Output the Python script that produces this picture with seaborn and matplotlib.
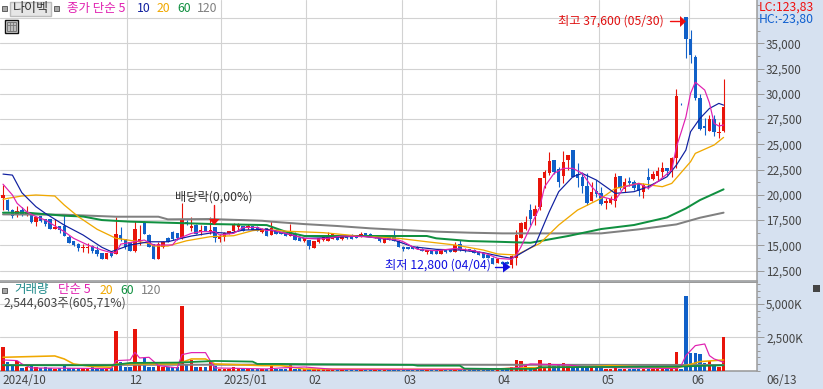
import numpy as np
import pandas as pd
import matplotlib
matplotlib.use("Agg")
import matplotlib.pyplot as plt
from matplotlib.patches import Rectangle, Polygon
from matplotlib.transforms import ScaledTranslation
from matplotlib.ticker import MultipleLocator
import seaborn as sns

opens = [19650,19500,18500,18000,18500,18000,18100,17300,17900,17600,
         17600,16600,16900,16900,15800,15400,15150,14750,14750,14950,
         14550,14250,13650,14250,14150,16000,15600,15300,14450,15350,
         17300,16000,15100,13650,14850,15700,16300,16200,15700,17300,
         16700,17000,16300,16950,16300,16800,15600,15800,16200,16400,
         16800,16900,16750,16900,16850,16300,16700,16000,16500,16300,
         16200,15900,16100,15700,15400,15500,14750,15300,15500,15400,
         15600,15900,15600,15900,16050,15900,15800,16200,16150,15800,
         15700,15200,15800,15900,15400,14850,14800,14850,14850,14650,
         14350,14500,14450,14150,14500,14500,14350,15150,14650,14600,
         14550,14350,14250,14050,13750,13250,13350,13350,13000,13750,
         15750,16600,18500,17900,18800,21650,22150,23450,22550,21850,
         23450,24450,22050,21750,20850,19400,20350,20150,19200,19200,
         19400,21850,20550,21350,21250,21150,20250,21750,21550,21850,
         22250,22650,22250,23650,29000,37600,35400,33650,29600,26800,
         26300,27500,26100,26300]
highs = [20950,19550,18550,18900,18750,18900,18150,17900,17950,17600,
         17650,17600,16900,18000,16000,15450,15250,15150,15250,15000,
         14950,14250,14250,14450,17800,16800,15650,15350,17400,17050,
         17400,16150,15100,15350,15450,15800,16400,16250,19200,17550,
         17800,17150,17050,16950,17800,16800,16150,16350,16450,17250,
         17200,16950,17100,16950,16900,16700,16750,17400,16600,16350,
         16250,17100,16350,15750,15750,15550,15450,15750,15850,16350,
         16250,15950,15950,15950,16100,15950,16350,16250,16200,15900,
         15750,15850,15850,16550,15450,14950,14850,14900,14900,14700,
         14550,14550,14500,14550,14550,14550,15350,15550,14700,14650,
         14600,14400,14300,14100,13800,13700,13400,13400,14050,16500,
         17300,17900,19050,19000,21700,22450,24250,23450,22750,24350,
         23950,24450,23150,22250,22150,21250,21450,20750,19700,19900,
         22150,21900,21650,21750,21450,21200,21150,22650,22350,22750,
         23250,22700,23750,30450,29050,37600,36300,33850,30000,27600,
         27900,27900,27200,31450]
lows = [18500,18350,17700,17850,17950,17900,17250,16950,17350,16950,
        16600,16600,16250,15900,15200,14950,14450,14350,14250,14250,
        13950,13650,13650,13850,14150,15450,14650,14450,14350,15000,
        16100,14850,13650,13650,14700,15300,15500,15550,15650,17050,
        16450,16100,16000,16450,16100,15300,15350,15450,16150,16300,
        16550,16400,16600,16550,16450,16250,15900,16000,16100,16100,
        15900,15900,15500,15400,15350,14650,14700,15250,15450,15400,
        15600,15500,15550,15650,15650,15700,15800,15950,15900,15750,
        15300,15200,15500,15400,14850,14450,14600,14600,14600,14400,
        14150,14100,14100,14100,14250,14300,14300,14400,14350,14400,
        14200,14000,13700,13700,13100,13200,13150,13100,12800,13050,
        15750,16500,17050,17000,18500,20650,21950,22050,20750,21150,
        22450,21750,20750,20150,19000,19350,19800,19000,18600,19100,
        18800,20450,20250,20850,20450,19900,19700,20550,21500,21400,
        21750,21950,21750,22650,28900,33550,33050,29400,26400,25900,
        26300,25800,25600,26200]
closes = [19950,18500,17900,18400,18100,18300,17300,17800,17400,17100,
          16600,16800,16500,15900,15200,15050,14750,14850,14850,14450,
          14150,13650,14250,13950,16100,15600,14850,14450,16600,15650,
          16100,14850,13650,15100,15300,15300,15600,15700,17600,17200,
          16900,16100,16500,16450,16500,15700,15900,16200,16400,17100,
          17000,16400,16950,16550,16450,16600,15900,16700,16100,16100,
          15900,16300,15500,15400,15700,14900,15400,15700,15800,15800,
          16200,15500,15900,15700,15650,15700,16100,15950,15900,15850,
          15400,15800,15500,15400,14850,14650,14650,14650,14600,14450,
          14500,14150,14150,14500,14350,14350,15050,14550,14450,14450,
          14250,14050,13750,13750,13150,13650,13150,13150,13950,16050,
          17200,17300,17600,18600,21650,22250,23350,22250,21250,23250,
          23950,21750,21650,20850,19200,20300,20050,19100,19400,19600,
          21750,20650,21250,21150,20650,20350,20950,21450,22050,22350,
          22650,22350,23650,29800,28950,35400,33850,29600,26500,26600,
          27500,26200,26200,28700]
volumes_k = [1750,625,325,700,200,300,375,300,200,300,
             175,150,175,350,200,200,200,175,175,250,
             175,200,200,200,3000,625,250,250,3150,500,
             925,300,300,500,250,250,300,250,4875,500,
             825,300,300,300,700,375,150,150,150,300,
             200,150,200,125,125,125,125,375,150,125,
             125,425,125,100,100,100,100,100,100,100,
             100,100,100,100,100,100,100,100,100,100,
             100,100,100,125,125,100,100,100,100,100,
             100,100,100,100,100,100,125,125,100,100,
             100,100,100,100,100,100,100,100,300,825,
             750,500,300,300,825,300,600,350,500,600,
             350,250,250,375,375,200,200,200,150,150,
             200,150,150,150,150,150,150,150,150,150,
             150,150,150,1425,125,5625,1350,1350,1275,600,
             700,500,300,2544]

ma5_idx = [0,2,3,5,7,9,13,15,18,21,
           23,24,25,28,30,32,34,36,37,40,
           42,45,46,49,51,54,56,57,60,64,
           67,69,72,77,84,85,88,92,96,100,
           103,105,108,109,110,114,115,117,119,121,
           123,125,127,130,132,135,137,139,142,143,
           144,145,146,147,149,150,151,152,153]
ma5_val = [21050,19980,19150,18330,17830,17500,16350,15690,15030,14530,
           14270,14270,15120,15350,15520,15030,15030,15030,15620,16180,
           16350,16350,16020,16180,16770,16770,16450,16510,16180,15690,
           15620,15700,15920,15850,15520,15350,14600,14460,14690,14460,
           14100,13710,13610,14030,14860,18820,20800,22120,22620,22620,
           22120,20800,19810,19480,20800,21130,20640,21300,22450,24760,
           26200,27700,30050,31150,30370,29100,27070,26810,26910]
ma10_idx = [0,2,4,7,9,13,17,21,23,24,
            27,31,35,37,40,45,48,51,56,60,
            64,69,76,83,87,92,97,102,106,108,
            109,113,116,118,121,123,126,129,130,134,
            137,141,143,145,146,148,150,152,153]
ma10_val = [22050,21950,20210,18820,18160,17000,16020,14800,14370,14530,
            15030,15350,15350,15590,15920,16280,16180,16510,16580,16180,
            15690,15750,15920,15520,14860,14600,14530,14270,13870,13710,
            13940,15030,18330,20310,21790,22120,21460,20470,20140,20310,
            20800,21790,22950,24430,26250,27570,28550,29050,28880]
ma20_idx = [0,1,4,7,11,13,16,20,24,28,
            31,32,35,39,44,49,53,56,60,68,
            76,84,90,96,102,105,109,114,118,122,
            127,130,135,140,142,146,147,151,153]
ma20_val = [19550,19650,19880,19980,19880,18990,17830,16580,15690,15420,
            15190,14930,14930,15450,15850,15950,16450,16580,16400,16250,
            15900,15690,15350,15030,14530,14140,14040,15190,17010,18490,
            19650,20630,21130,20800,21130,23280,24100,24930,25680]
ma60_idx = [0,5,13,17,21,27,45,56,60,64,
            90,92,99,105,112,120,127,134,141,145,
            148,153]
ma60_val = [18230,18230,17930,17850,17500,17340,17100,17000,16350,15920,
            15920,15690,15420,15350,15250,15920,16610,17010,17760,18650,
            19480,20540]
ma120_idx = [0,13,24,33,35,44,55,57,64,71,
             78,85,92,99,106,127,135,143,148,153]
ma120_val = [18060,18030,17830,17830,17570,17600,17430,17340,17100,16910,
             16680,16510,16350,16250,16180,16180,16580,17070,17730,18230]

vma5_idx = [0,3,4,6,23,24,27,28,29,31,
            33,37,38,40,43,44,45,56,59,64,
            70,88,97,104,109,112,120,124,143,144,
            145,147,149,150,151,153]
vma5_val = [800,750,500,200,150,750,800,1375,950,1000,
            375,200,1200,1350,1350,750,200,125,200,270,
            100,100,100,100,200,500,425,250,150,375,
            1125,1875,2000,1125,875,625]
vma20_idx = [0,11,13,15,19,23,24,37,40,43,
             45,55,59,64,85,104,109,118,125,129,
             134,143,145,148,153]
vma20_val = [1000,1100,875,500,300,250,500,500,875,875,
             500,375,375,120,100,100,200,250,300,375,
             300,200,375,675,800]
vma60_idx = [0,23,27,37,45,53,54,59,64,87,
             88,97,98,104,113,114,143,153]
vma60_val = [400,400,575,600,725,675,500,500,480,430,
             370,370,150,125,125,250,300,400]
vma120_idx = [0,64,153]
vma120_val = [420,450,420]

month_pos = [-0.637,26.4,46.35,64.4,84.65,104.6,126.6,145.7]
month_labels = ["2024/10","12","2025/01","02","03","04","05","06"]
price_ticks = list(range(12500,35001,2500))
volume_ticks = [2500,5000]

RED, BLUE = "#e8140a", "#1060c8"
PINK, NAVY, ORANGE, GREEN, GRAY = "#e020b0", "#1020a0", "#f0a800", "#109040", "#808080"
PANEL, GRID, EDGE, INK = "#d6e1f0", "#d2d2d2", "#9a9a9a", "#454545"
PX = 0.72

sns.set_theme(style="white")
plt.rcParams["font.family"] = ["Noto Sans CJK KR", "DejaVu Sans"]

W, H = 823, 389
fig = plt.figure(figsize=(W/100, H/100), dpi=100, facecolor=PANEL)
def px_axes(x0, x1, y0, y1):
    return fig.add_axes([x0/W, 1-y1/H, (x1-x0)/W, (y1-y0)/H], facecolor="white")
ax = px_axes(0, 757, 0, 281)
axv = px_axes(0, 757, 282, 371)

df = pd.DataFrame(dict(i=np.arange(len(opens)), o=opens, h=highs, l=lows, c=closes, v=volumes_k))
df["up"] = df.c >= df.o
colors = np.where(df.up, RED, BLUE)

xlim = (-0.637, 160.1)
body_w = 0.72

ax.vlines(df.i, df.l, df.h, colors=colors, lw=PX*1.1, zorder=3)
ax.bar(df.i, (df.c-df.o).abs().clip(lower=60), bottom=df[["o","c"]].min(axis=1), width=body_w,
       color=colors, linewidth=0, edgecolor="none", zorder=3, antialiased=False)
for idx, val, col, lw in [(ma120_idx, ma120_val, GRAY, 2.0*PX), (ma60_idx, ma60_val, GREEN, 2.0*PX),
                          (ma20_idx, ma20_val, ORANGE, 1.3*PX), (ma10_idx, ma10_val, NAVY, 1.2*PX),
                          (ma5_idx, ma5_val, PINK, 1.2*PX)]:
    sns.lineplot(x=idx, y=val, ax=ax, color=col, lw=lw, estimator=None, sort=False, zorder=4, legend=False)

sns.barplot(data=df, x="i", y="v", hue="up", palette={True: RED, False: BLUE}, native_scale=True,
            dodge=False, width=body_w, legend=False, ax=axv, zorder=3, saturation=1,
            linewidth=0, edgecolor="none")
for p in axv.patches:
    p.set_antialiased(False)
for idx, val, col, lw in [(vma120_idx, vma120_val, GRAY, 2.0*PX), (vma20_idx, vma20_val, ORANGE, 1.6*PX),
                          (vma5_idx, vma5_val, PINK, 1.2*PX), (vma60_idx, vma60_val, GREEN, 1.8*PX)]:
    sns.lineplot(x=idx, y=val, ax=axv, color=col, lw=lw, estimator=None, sort=False, zorder=4, legend=False)

ax.set_xlim(*xlim); axv.set_xlim(*xlim)
ax.set_ylim(11465, 39287)
axv.set_ylim(-30, 6652)

for a in (ax, axv):
    a.set_xlabel(""); a.set_ylabel("")
    a.set_axisbelow(True)
    a.yaxis.tick_right()
    a.grid(True, color=GRID, lw=1.1*PX, zorder=0)
    a.set_xticks(month_pos)
    for sp in a.spines.values():
        sp.set_visible(False)
    a.spines["right"].set_visible(True); a.spines["right"].set_color(EDGE); a.spines["right"].set_linewidth(1.5*PX)
    a.tick_params(axis="y", which="major", length=5, width=PX, color=EDGE, labelsize=8.4,
                  labelcolor=INK, pad=1.5, right=True)
    a.tick_params(axis="y", which="minor", length=2.5, width=PX, color=EDGE, right=True)
    a.get_xgridlines()[0].set_visible(False)

ax.set_yticks(price_ticks, [f"{t:,}" for t in price_ticks])
ax.yaxis.set_minor_locator(MultipleLocator(1250))
ax.axhline(37500, color=GRID, lw=1.1*PX, zorder=0)
ax.set_xticklabels([])
ax.tick_params(axis="x", length=0)
ax.spines["bottom"].set_visible(True); ax.spines["bottom"].set_color(EDGE); ax.spines["bottom"].set_linewidth(1.6*PX)

axv.set_yticks(volume_ticks, [f"{t:,}K" for t in volume_ticks])
axv.yaxis.set_minor_locator(MultipleLocator(500))
axv.spines["bottom"].set_visible(True); axv.spines["bottom"].set_color(EDGE); axv.spines["bottom"].set_linewidth(1.6*PX)
axv.spines["top"].set_visible(True); axv.spines["top"].set_color(EDGE); axv.spines["top"].set_linewidth(1.0*PX)
axv.set_xticks(month_pos, month_labels)
axv.tick_params(axis="x", length=13, width=1.1*PX, color=EDGE, labelsize=8.4, labelcolor=INK, pad=-11)
off = ScaledTranslation(2/72*0.72, 0, fig.dpi_scale_trans)
for lab in axv.get_xticklabels():
    lab.set_ha("left")
    lab.set_transform(lab.get_transform() + off)
axv.xaxis.get_major_ticks()[0].tick1line.set_visible(False)

# Overlay in pixel coordinates for captions and markers
ov = fig.add_axes([0, 0, 1, 1], facecolor="none", zorder=10)
ov.set_xlim(0, W); ov.set_ylim(H, 0); ov.axis("off")
def T(x, y, s, color=INK, size=8.8, ha="left"):
    ov.text(x, y, s, color=color, fontsize=size, ha=ha, va="center")
def square(x, y):
    ov.add_patch(Rectangle((x-2.5, y-2.5), 5, 5, fc="#a8a8a8", ec="#606060", lw=0.7))

square(5, 8)
ov.add_patch(Rectangle((10.5, 1.5), 41, 14, fc="#e6e6e6", ec="#bcbcbc", lw=1))
T(31, 8.5, "나이벡", "#333333", 9.4, "center")
square(57, 8)
T(67, 8.5, "종가 단순 5", PINK, 9.0)
T(137, 8.5, "10", NAVY, 8.8)
T(157, 8.5, "20", ORANGE, 8.8)
T(177, 8.5, "60", GREEN, 8.8)
T(197, 8.5, "120", GRAY, 8.8)
ov.add_patch(Rectangle((5.5, 19.5), 13, 13, fc="#d8d8d8", ec="#111111", lw=1))
ov.add_patch(Rectangle((7.5, 22), 9, 8.5, fc="#bdbdbd", ec="#777777", lw=0.7))
for xv in (10.5, 13.5):
    ov.plot([xv, xv], [22, 30.5], color="#777777", lw=0.6)
ov.plot([7.5, 16.5], [25, 25], color="#777777", lw=0.6)

T(759, 7, "LC:123,83", "#f01010", 8.8)
T(759, 19, "HC:-23,80", "#1060d0", 8.8)
T(766, 380, "06/13", INK, 8.4)
ov.add_patch(Rectangle((813, 285), 7, 7, fc="#444444", ec="none"))

square(5, 290)
T(14, 290, "거래량", "#1f8a8a", 9.0)
T(58, 290, "단순 5", PINK, 9.0)
T(100, 290, "20", ORANGE, 8.8)
T(120, 290, "60", GREEN, 8.8)
T(141, 290, "120", GRAY, 8.8)
T(4, 303, "2,544,603주(605,71%)", INK, 8.8)

T(175, 197, "배당락(0,00%)", "#333333", 8.8)
ov.plot([214, 214], [205, 220], color="#f01010", lw=1)
ov.add_patch(Polygon([[209, 219], [219.5, 219], [214.3, 225]], fc="#f01010", ec="none"))
T(385, 265, "최저 12,800 (04/04)", "#1010e0", 8.8)
ov.plot([495, 504], [267, 267], color="#1010e0", lw=1)
ov.add_patch(Polygon([[503, 261.5], [503, 272.5], [510.5, 267]], fc="#1010e0", ec="none"))
T(664, 21, "최고 37,600 (05/30)", "#e01010", 8.8, "right")
ov.plot([670, 681], [21, 21], color="#f01010", lw=1)
ov.add_patch(Polygon([[680, 16], [680, 27], [686, 21.5]], fc="#f01010", ec="none"))

fig.savefig("out.png", dpi=100, facecolor=PANEL)
